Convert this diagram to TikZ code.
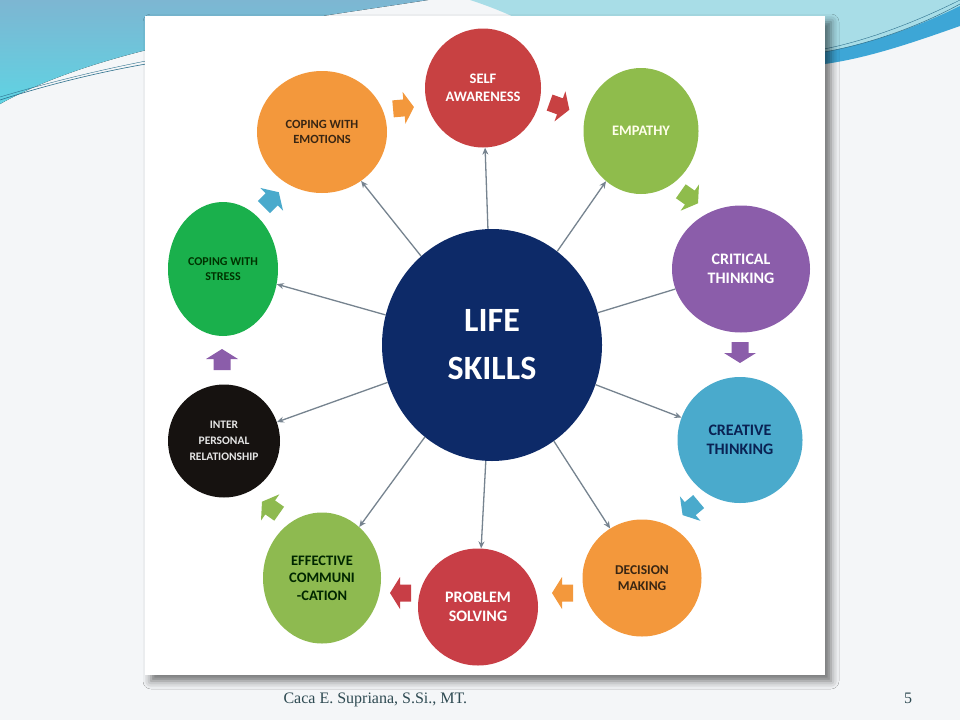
\documentclass[tikz,border=0pt]{standalone}
\usepackage{fontspec}
\setmainfont{Carlito}
\newfontfamily\footfont{Liberation Serif}
\usepackage{tikz}
\usetikzlibrary{shapes.geometric,arrows.meta,shadows.blur}

\definecolor{slidebg}{HTML}{F4F6F8}
\definecolor{swooshtop}{HTML}{7DB6D2}
\definecolor{swooshlow}{HTML}{5FD3E3}
\definecolor{swooshright}{HTML}{A8DDE7}
\definecolor{stripeblue}{HTML}{3DA6D6}
\definecolor{thinline}{HTML}{2C6F8C}
\definecolor{hubblue}{HTML}{0D2A68}
\definecolor{selfred}{HTML}{C84142}
\definecolor{empgreen}{HTML}{8FBC4C}
\definecolor{critpurple}{HTML}{8B5DAA}
\definecolor{creacyan}{HTML}{4AAACC}
\definecolor{decorange}{HTML}{F3983C}
\definecolor{probred}{HTML}{C83E46}
\definecolor{effgreen}{HTML}{8EBA50}
\definecolor{interblack}{HTML}{161210}
\definecolor{stressgreen}{HTML}{1AB04C}
\definecolor{linkgray}{HTML}{76838F}
\definecolor{footgray}{HTML}{2E4A52}

\begin{document}
\begin{tikzpicture}[x=1pt,y=-1pt,
  %%Configuration
  skill/.style = {ellipse, inner sep=0pt, align=center},
  hub/.style   = {skill, fill=hubblue, text=white,
    font=\fontsize{34}{48}\selectfont\bfseries,
    minimum width=220pt, minimum height=232pt},
  txtL/.style  = {font=\fontsize{16}{18.5}\selectfont\bfseries},
  txtM/.style  = {font=\fontsize{14.5}{17.5}\selectfont\bfseries},
  txtS/.style  = {font=\fontsize{12}{15.5}\selectfont\bfseries},
  link/.style  = {draw=linkgray, line width=1.3pt,
    -{Stealth[length=7pt,width=6pt]}},
  flowarrow/.pic = {\fill (-10,-8.5) -- (1,-8.5) -- (1,-16) -- (11,0)
    -- (1,16) -- (1,8.5) -- (-10,8.5) -- cycle;}
]
  %%Slide background
  \useasboundingbox (0,0) rectangle (960,720);
  \fill[slidebg] (0,0) rectangle (960,720);
  \fill[top color=swooshtop, bottom color=swooshlow]
    (0,0) -- (428,0) .. controls (300,20) and (110,42) .. (0,104) -- cycle;
  \draw[thinline, line width=0.6pt] (0,100) .. controls (50,84) and (100,72) .. (146,64);
  \draw[thinline, line width=0.4pt] (0,97) .. controls (50,82) and (100,70) .. (146,61);
  \fill[swooshright] (470,0) -- (960,0) -- (960,22)
    .. controls (920,40) and (870,56) .. (826,64) -- (600,64)
    .. controls (560,40) and (520,16) .. (470,0) -- cycle;
  \fill[stripeblue] (824,64) .. controls (870,58) and (920,40) .. (960,26)
    -- (960,6) .. controls (920,26) and (870,44) .. (824,52) -- cycle;
  \draw[thinline, line width=0.5pt] (824,52) .. controls (870,44) and (920,26) .. (960,4);
  \draw[thinline, line width=0.4pt] (824,49) .. controls (870,40) and (920,20) .. (960,0);
  \fill[white, blur shadow={shadow xshift=6pt, shadow yshift=-6pt,
      shadow blur radius=8pt, shadow opacity=55}]
    (145,16) rectangle (825,675);

  %%Nodes
  \node[hub] (hub) at (492,345) {LIFE\\SKILLS};
  \node[skill, fill=selfred, text=white, txtM, minimum width=116pt, minimum height=119pt]
    (self) at (483,88) {SELF\\AWARENESS};
  \node[skill, fill=empgreen, text=white!92!yellow, txtM, minimum width=115pt, minimum height=126pt]
    (empathy) at (641,131) {EMPATHY};
  \node[skill, fill=critpurple, text=white, txtL, minimum width=138pt, minimum height=127pt]
    (critical) at (741,269) {CRITICAL\\THINKING};
  \node[skill, fill=creacyan, text=hubblue!80!black, txtL, minimum width=125pt, minimum height=126pt]
    (creative) at (740,440) {CREATIVE\\THINKING};
  \node[skill, fill=decorange, text=black!70!brown, font=\fontsize{13.5}{16}\selectfont\bfseries,
    minimum width=119pt, minimum height=117pt]
    (decision) at (642,578) {DECISION\\MAKING};
  \node[skill, fill=probred, text=white, txtL, minimum width=120pt, minimum height=117pt]
    (problem) at (478,607) {PROBLEM\\SOLVING};
  \node[skill, fill=effgreen, text=black!85!green, txtM, minimum width=118pt, minimum height=131pt]
    (effective) at (322,578) {EFFECTIVE\\COMMUNI\\-CATION};
  \node[skill, fill=interblack, text=white!90!black, font=\fontsize{11.5}{16}\selectfont\bfseries,
    minimum width=112pt, minimum height=113pt]
    (inter) at (224,441) {INTER\\PERSONAL\\RELATIONSHIP};
  \node[skill, fill=stressgreen, text=black!80!green, txtS, minimum width=110pt, minimum height=134pt]
    (stress) at (223,269) {COPING WITH\\STRESS};
  \node[skill, fill=decorange, text=black!70!brown, font=\fontsize{12.5}{15.5}\selectfont\bfseries,
    minimum width=130pt, minimum height=122pt]
    (emotions) at (322,132) {COPING WITH\\EMOTIONS};

  %%Links from the hub
  \draw[link] (hub) -- (self);
  \draw[link] (hub) -- (empathy);
  \draw[link, -] (hub) -- (critical);
  \draw[link] (hub) -- (creative);
  \draw[link] (hub) -- (decision);
  \draw[link] (hub) -- (problem);
  \draw[link] (hub) -- (effective);
  \draw[link] (hub) -- (inter);
  \draw[link] (hub) -- (stress);
  \draw[link] (hub) -- (emotions);

  %%Cycle arrows
  \pic[fill=decorange, rotate=5] at (403,108) {flowarrow};
  \pic[fill=selfred, rotate=-20] at (559,106) {flowarrow};
  \pic[fill=empgreen, rotate=-35] at (689,197) {flowarrow};
  \pic[fill=critpurple, rotate=-90] at (740,352) {flowarrow};
  \pic[fill=creacyan, rotate=-140] at (691,508) {flowarrow};
  \pic[fill=decorange, rotate=180] at (563,593) {flowarrow};
  \pic[fill=probred, rotate=180] at (401,593) {flowarrow};
  \pic[fill=effgreen, rotate=145] at (271,508) {flowarrow};
  \pic[fill=critpurple, rotate=90] at (222,360) {flowarrow};
  \pic[fill=creacyan, rotate=45] at (271,200) {flowarrow};

  %%Footer
  \node[anchor=base west, text=footgray, font=\footfont\fontsize{16}{18}\selectfont]
    (author) at (280,703) {Caca E. Supriana, S.Si., MT.};
  \node[anchor=base, text=footgray, font=\footfont\fontsize{16}{18}\selectfont]
    (page) at (908,703) {5};
\end{tikzpicture}
\end{document}
